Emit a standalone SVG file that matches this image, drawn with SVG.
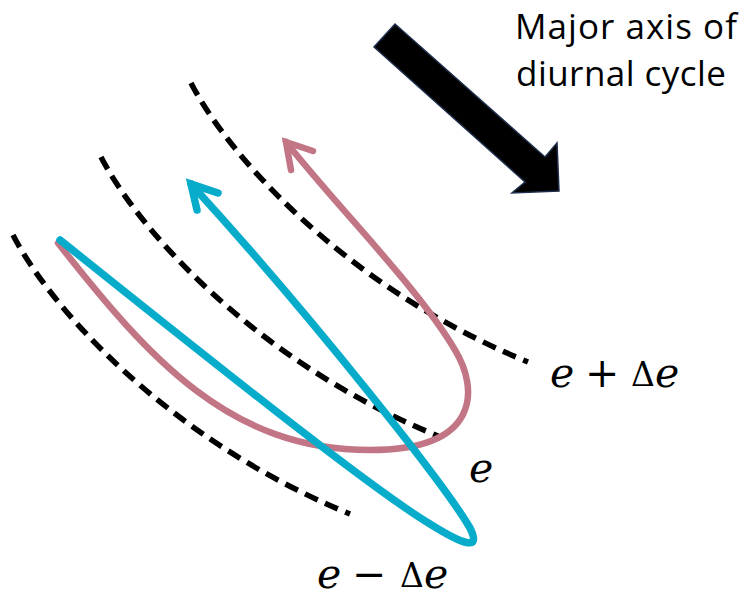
<svg xmlns="http://www.w3.org/2000/svg" width="744" height="599" viewBox="0 0 744 599">
<style>
.contour{fill:none;stroke:#000;stroke-width:5.5;stroke-dasharray:14 8}
.traj{fill:none;stroke-linecap:round;stroke-linejoin:miter}
.pink{stroke:#C17585;stroke-width:6.5}
.blue{stroke:#07ACCB;stroke-width:7.5}
.title{font-family:"Open Sans","Liberation Sans",sans-serif;font-size:35px;fill:#000}
.mi{font-family:"DejaVu Serif","Liberation Serif",serif;font-style:italic;font-size:41px;fill:#000}
.mr{font-family:"DejaVu Serif","Liberation Serif",serif;font-size:41px;fill:#000}
.md{font-family:"DejaVu Serif","Liberation Serif",serif;font-size:33px;fill:#000}
</style>
<defs>
<path id="contourShape" d="M191,83 C225,150 340,285 528,362"/>
</defs>
<g id="contours">
<use href="#contourShape" class="contour"/>
<use href="#contourShape" class="contour" transform="translate(-90,74)"/>
<use href="#contourShape" class="contour" transform="translate(-178,152)"/>
</g>
<g id="axis-arrow">
<polygon points="395,24 545,157 557,143 559,191 512,193 525,182 374,47" fill="#000" stroke="#1F2D4D" stroke-width="1.5" stroke-linejoin="miter"/>
</g>
<g id="connectors">
<g id="pink-trajectory">
<path class="traj pink" d="M58,243 C150,360 230,450 370,450 C482,450 478,388 455,350 C420,290 340,210 286,142"/>
<path class="traj pink" d="M291,170 L286,142 L313,151"/>
</g>
<g id="blue-trajectory">
<path class="traj blue" d="M60,240 C200,352 370,488 430,524 C462,544 482,552 470,528 C445,485 315,320 191,184"/>
<path class="traj blue" d="M197,210 L191,184 L218,193"/>
</g>
</g>
<g id="labels">
<text class="title" x="515" y="39" textLength="222" lengthAdjust="spacing">Major axis of</text>
<text class="title" x="516" y="86" textLength="210" lengthAdjust="spacing">diurnal cycle</text>
<g id="label-e-plus">
<text class="mi" x="550" y="387">e</text>
<text class="mr" x="585" y="387">+</text>
<text class="md" x="631" y="386">Δ</text>
<text class="mi" x="655" y="387">e</text>
</g>
<g id="label-e">
<text class="mi" x="469" y="482">e</text>
</g>
<g id="label-e-minus">
<text class="mi" x="317" y="588">e</text>
<text class="mr" x="352" y="588">−</text>
<text class="md" x="400" y="587">Δ</text>
<text class="mi" x="424" y="588">e</text>
</g>
</g>
</svg>
